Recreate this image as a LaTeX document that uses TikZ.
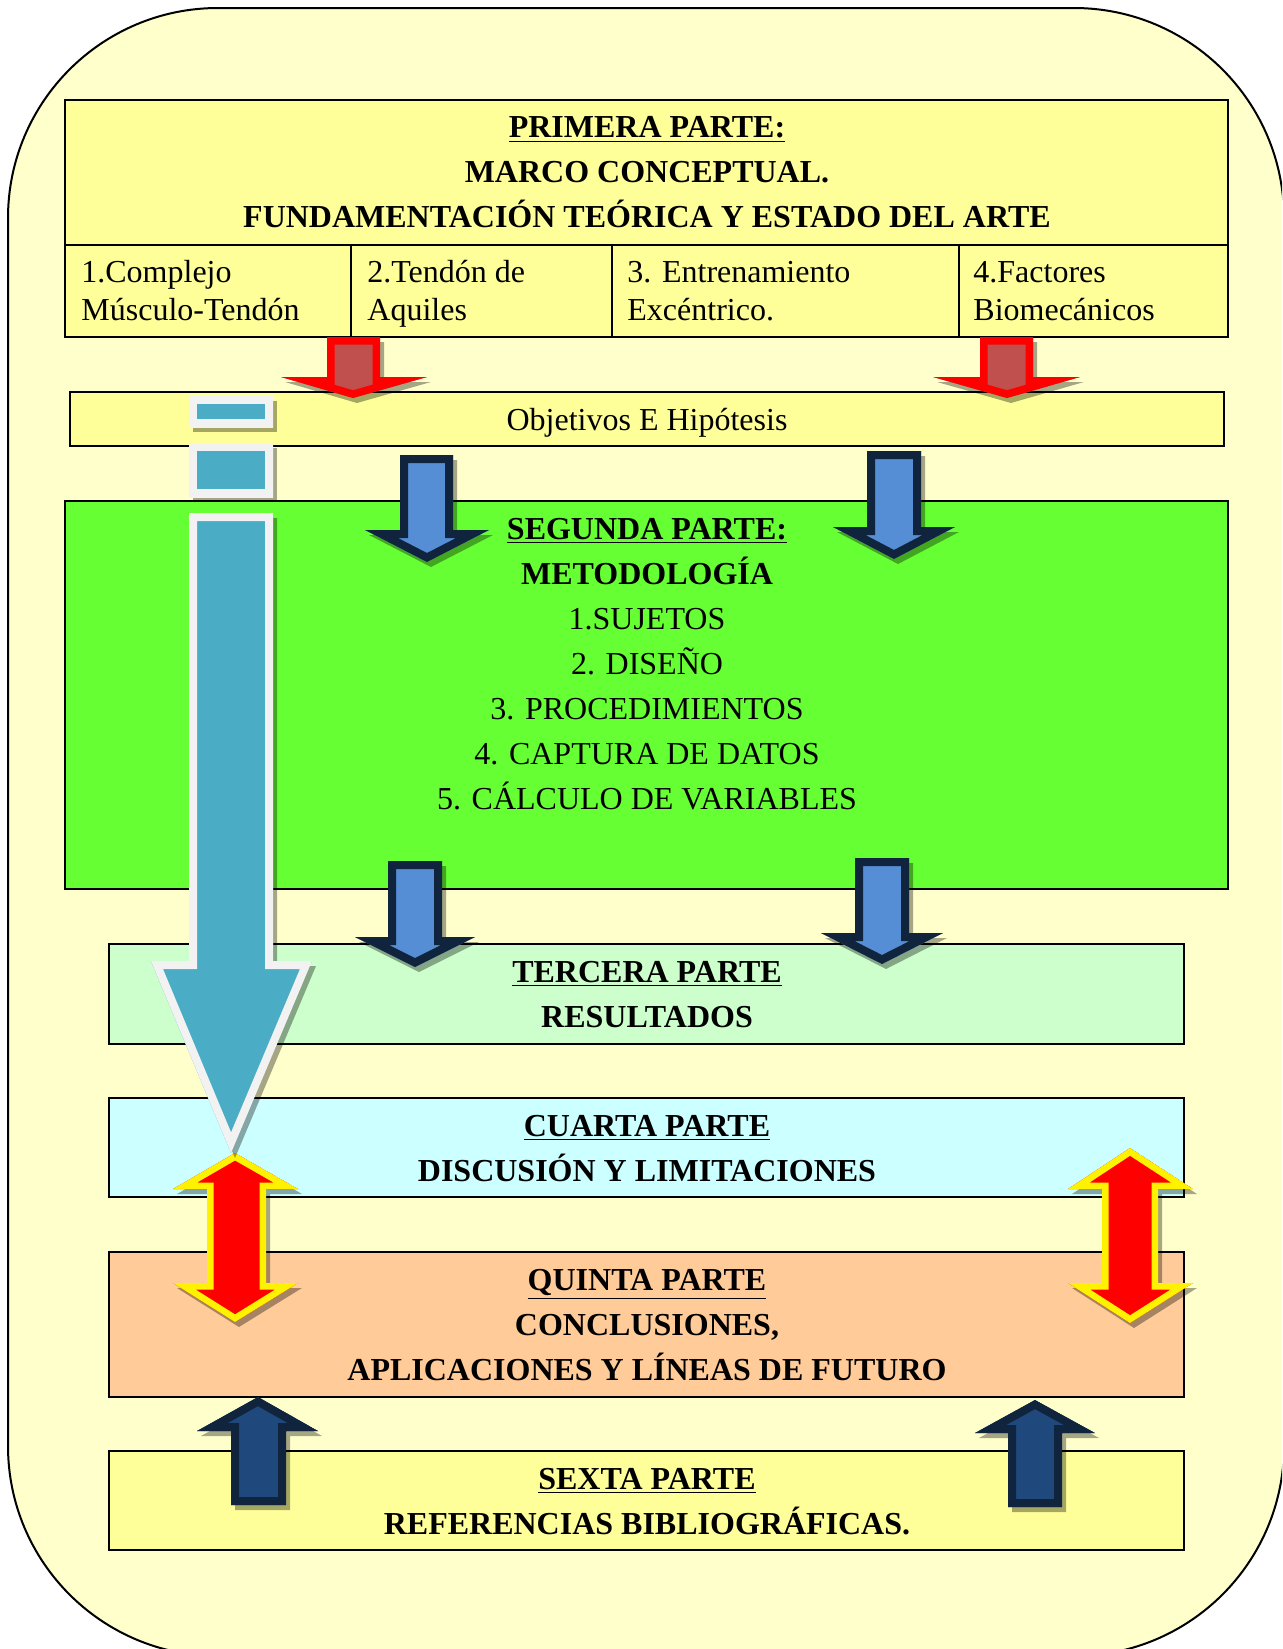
\documentclass[tikz,border=0pt]{standalone}
\usepackage{fontspec}
\setmainfont{Liberation Serif}
\usepackage{tikz}

\definecolor{paleyellow}{HTML}{FFFFCC}
\definecolor{boxyellow}{HTML}{FFFF99}
\definecolor{boxgreen}{HTML}{66FF33}
\definecolor{palegreen}{HTML}{CCFFCC}
\definecolor{palecyan}{HTML}{CCFFFF}
\definecolor{peach}{HTML}{FFCC99}
\definecolor{brickred}{HTML}{C0504D}
\definecolor{skyblue}{HTML}{558ED5}
\definecolor{navyline}{HTML}{10243E}
\definecolor{deepblue}{HTML}{1F497D}
\definecolor{stripeteal}{HTML}{4BACC6}
\definecolor{paperwhite}{HTML}{F2F2F2}

\tikzset{
  boxline/.style={line width=1.25pt},
  parttext/.style={align=center, inner sep=0pt, font=\fontsize{16}{22.5}\selectfont},
  celltext/.style={anchor=west, align=left, inner sep=0pt, font=\fontsize{16}{19}\selectfont}
}

% block arrow: fill, outline, doubled border width, closed path
\newcommand{\blockarrow}[4]{%
  \fill [black, opacity=0.35, shift={(4,5)}] #4;
  \begin{scope}
    \clip #4;
    \filldraw [fill=#1, draw=#2, line width=#3] #4;
  \end{scope}}

\begin{document}
\begin{tikzpicture}[x=0.5pt,y=0.5pt,yscale=-1,xscale=1]
\useasboundingbox (0,0) rectangle (1282,1649);

%Shape: Rounded Rect [background]
\begin{scope}
\clip (0,0) rectangle (1282,1649);
\draw [fill=paleyellow, line width=1pt, rounded corners=105pt] (8,8) rectangle (1284,1656);
\end{scope}

%Shape: Table [primera parte]
\draw [boxline, fill=boxyellow] (65,100) rectangle (1228,337);
\draw [boxline] (65,245) -- (1228,245);
\draw [boxline] (351,245) -- (351,337) (612,245) -- (612,337) (959,245) -- (959,337);

%Shape: Rectangle [objetivos]
\draw [boxline, fill=boxyellow] (70,392) rectangle (1224,446);
%Shape: Rectangle [segunda parte]
\draw [boxline, fill=boxgreen] (65,501) rectangle (1228,889);
%Shape: Rectangle [tercera parte]
\draw [boxline, fill=palegreen] (109,944) rectangle (1184,1044);
%Shape: Rectangle [cuarta parte]
\draw [boxline, fill=palecyan] (109,1098) rectangle (1184,1197);
%Shape: Rectangle [quinta parte]
\draw [boxline, fill=peach] (109,1252) rectangle (1184,1397);
%Shape: Rectangle [sexta parte]
\draw [boxline, fill=boxyellow] (109,1451) rectangle (1184,1550);

% Text Node
\draw (647,172.5) node (primera) [parttext] {\bfseries\underline{PRIMERA PARTE:}\\\bfseries MARCO CONCEPTUAL.\\\bfseries FUNDAMENTACIÓN TEÓRICA Y ESTADO DEL ARTE};
% Text Node
\draw (81,291) node (complejo) [celltext] {1.Complejo\\Músculo-Tendón};
% Text Node
\draw (367,294) node (aquiles) [celltext] {2.Tendón de\\Aquiles};
% Text Node
\draw (627,291) node (excentrico) [celltext] {3. Entrenamiento\\Excéntrico.};
% Text Node
\draw (973,291) node (factores) [celltext] {4.Factores\\Biomecánicos};
% Text Node
\draw (647,430) node (objetivos) [parttext, anchor=base] {Objetivos E Hipótesis};
% Text Node
\draw (647,664) node (segunda) [parttext] {\textbf{\underline{SEGUNDA PARTE:}}\\\textbf{METODOLOGÍA}\\1.SUJETOS\\2. DISEÑO\\3. PROCEDIMIENTOS\\4. CAPTURA DE DATOS\\5. CÁLCULO DE VARIABLES};
% Text Node
\draw (647,994.5) node (tercera) [parttext] {\bfseries\underline{TERCERA PARTE}\\\bfseries RESULTADOS};
% Text Node
\draw (647,1148.5) node (cuarta) [parttext] {\bfseries\underline{CUARTA PARTE}\\\bfseries DISCUSIÓN Y LIMITACIONES};
% Text Node
\draw (647,1325) node (quinta) [parttext] {\bfseries\underline{QUINTA PARTE}\\\bfseries CONCLUSIONES,\\\bfseries APLICACIONES Y LÍNEAS DE FUTURO};
% Text Node
\draw (647,1501.5) node (sexta) [parttext] {\bfseries\underline{SEXTA PARTE}\\\bfseries REFERENCIAS BIBLIOGRÁFICAS.};

%Shape: Down Arrow [red]
\blockarrow{brickred}{red}{7.5pt}{(327,337) -- (380,337) -- (380,377) -- (427,377) -- (353,398) -- (281,377) -- (327,377) -- cycle}
\blockarrow{brickred}{red}{7.5pt}{(980,337) -- (1033,337) -- (1033,377) -- (1080,377) -- (1007,398) -- (933,377) -- (980,377) -- cycle}

%Shape: Down Arrow [blue]
\blockarrow{skyblue}{navyline}{8pt}{(400,455) -- (453,455) -- (453,530) -- (489,530) -- (427,562) -- (365,530) -- (400,530) -- cycle}
\blockarrow{skyblue}{navyline}{8pt}{(867,451) -- (921,451) -- (921,527) -- (955,527) -- (894,559) -- (833,527) -- (867,527) -- cycle}
\blockarrow{skyblue}{navyline}{8pt}{(388,861) -- (442,861) -- (442,937) -- (475,937) -- (415,967) -- (355,937) -- (388,937) -- cycle}
\blockarrow{skyblue}{navyline}{8pt}{(855,858) -- (909,858) -- (909,933) -- (943,933) -- (882,964) -- (821,933) -- (855,933) -- cycle}

%Shape: Up Arrow [dark blue]
\blockarrow{deepblue}{navyline}{8pt}{(258,1397) -- (318,1431) -- (286,1431) -- (286,1505) -- (231,1505) -- (231,1431) -- (197,1431) -- cycle}
\blockarrow{deepblue}{navyline}{8pt}{(1035,1400) -- (1095,1433) -- (1062,1433) -- (1062,1507) -- (1008,1507) -- (1008,1433) -- (975,1433) -- cycle}

%Shape: Up Down Arrow [red]
\blockarrow{red}{yellow}{6.5pt}{(235,1153) -- (298,1189) -- (266,1189) -- (266,1283) -- (298,1283) -- (235,1322) -- (173,1283) -- (207,1283) -- (207,1189) -- (173,1189) -- cycle}
\blockarrow{red}{yellow}{6.5pt}{(1130,1148) -- (1193,1189) -- (1158,1189) -- (1158,1283) -- (1193,1283) -- (1130,1323) -- (1068,1283) -- (1102,1283) -- (1102,1189) -- (1068,1189) -- cycle}

%Shape: Striped Down Arrow [teal]
\blockarrow{stripeteal}{paperwhite}{8pt}{(189,396) rectangle (273,427)}
\blockarrow{stripeteal}{paperwhite}{8pt}{(189,443) rectangle (273,497)}
\blockarrow{stripeteal}{paperwhite}{8pt}{(189,513) -- (273,513) -- (273,961) -- (312,961) -- (231,1153) -- (151,961) -- (189,961) -- cycle}

\end{tikzpicture}
\end{document}
